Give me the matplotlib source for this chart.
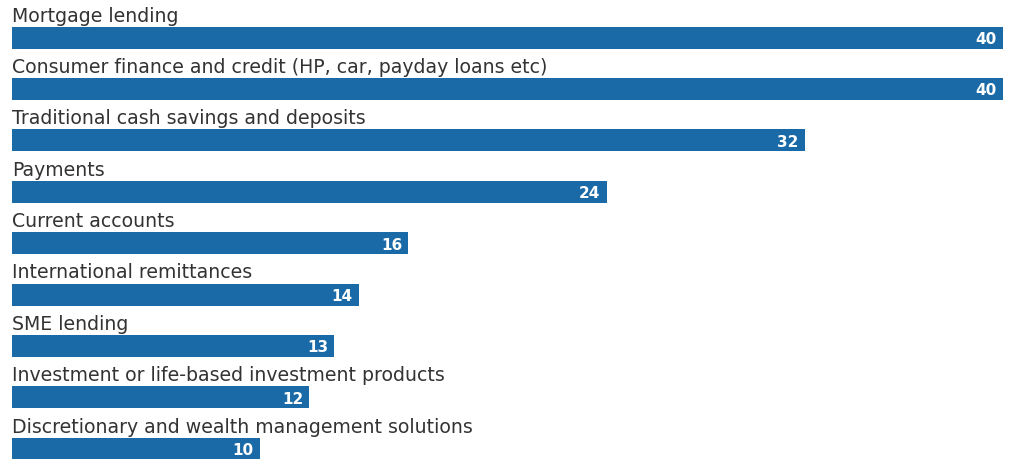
import matplotlib
matplotlib.use('Agg')
import matplotlib.pyplot as plt

categories = [
    "Mortgage lending",
    "Consumer finance and credit (HP, car, payday loans etc)",
    "Traditional cash savings and deposits",
    "Payments",
    "Current accounts",
    "International remittances",
    "SME lending",
    "Investment or life-based investment products",
    "Discretionary and wealth management solutions",
]
values = [40, 40, 32, 24, 16, 14, 13, 12, 10]

BAR_COLOR = '#1a6aa7'
TEXT_COLOR = '#333333'

W, H = 1014, 460
fig = plt.figure(figsize=(W / 100, H / 100), dpi=100)
# axes spans the bar area; y axis measured in pixels from the top
left, right = 12, 1003
ax = fig.add_axes([left / W, 0, (right - left) / W, 1])
ax.set_xlim(0, 40)
ax.set_ylim(H, 0)
ax.axis('off')

first_top = 27.5
step = 51.4
bar_h = 22

px_per_unit = (right - left) / 40

for i, (cat, val) in enumerate(zip(categories, values)):
    top = first_top + i * step
    ax.barh(top + bar_h / 2, val, height=bar_h, color=BAR_COLOR, left=0)
    ax.text(0, top - 6, cat, ha='left', va='baseline', fontsize=13.6,
            family='DejaVu Sans', color=TEXT_COLOR)
    ax.text(val - 6 / px_per_unit, top + bar_h / 2 + 1, str(val), ha='right', va='center',
            fontsize=11, fontweight='bold', color='white', family='DejaVu Sans')

fig.savefig('out.png', dpi=100)
